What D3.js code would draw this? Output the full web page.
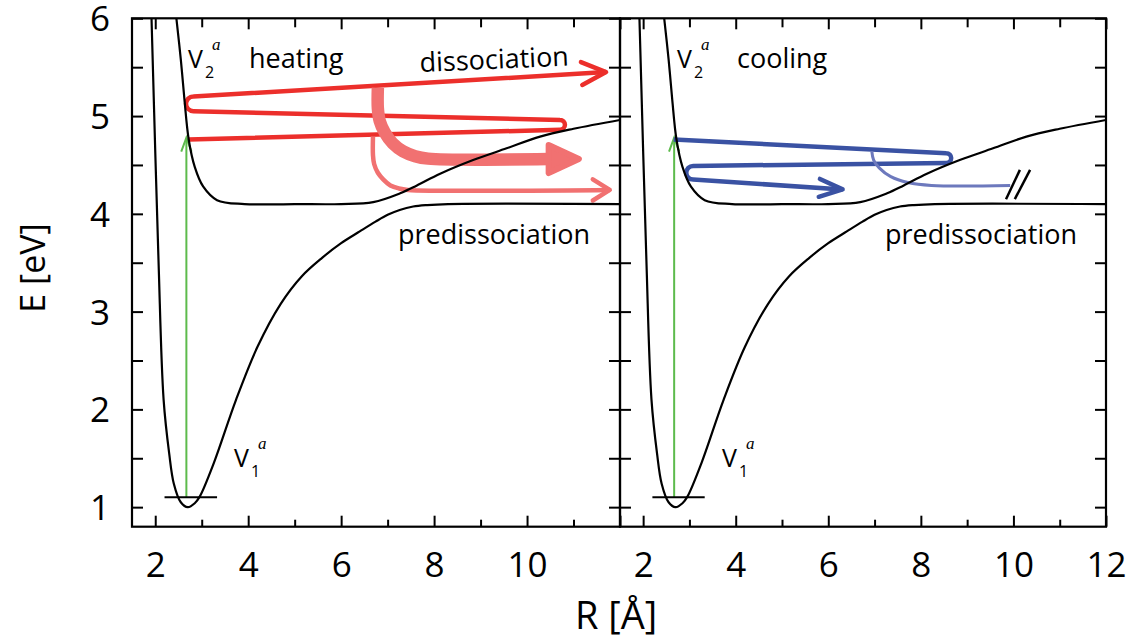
<!DOCTYPE html>
<html>
<head>
<meta charset="utf-8">
<script src="https://cdn.jsdelivr.net/npm/d3@7"></script>
<style>
  html, body { margin: 0; padding: 0; background: #fff; }
  svg { display: block; }
  text { font-family: "Open Sans", "Noto Sans", sans-serif; fill: #000; }
</style>
</head>
<body>
<svg id="chart" width="1136" height="639"></svg>
<script>
// ---- axis ranges and ticks ----
const rDomain = [1.5, 12];
const eDomain = [0.8, 6];
const rMajorTicks = [2, 4, 6, 8, 10, 12];
const rMinorTicks = [3, 5, 7, 9, 11];
const eTicks = [1, 1.5, 2, 2.5, 3, 3.5, 4, 4.5, 5, 5.5, 6];
const eLabelTicks = [1, 2, 3, 4, 5, 6];

// ---- potential energy curves (R in Å, E in eV) ----
const v1R = [1.92, 2.07, 2.18, 2.30, 2.40, 2.55, 2.70, 2.85, 2.96, 3.26, 3.74, 4.20, 4.70, 5.15, 5.59, 6.00, 6.40, 6.74, 7.00, 7.26, 7.55, 7.85, 8.30, 12.0];
const v1E = [6.00, 3.53, 2.10, 1.55, 1.24, 1.05, 1.00, 1.04, 1.11, 1.45, 2.10, 2.64, 3.08, 3.36, 3.55, 3.70, 3.82, 3.92, 3.99, 4.04, 4.075, 4.09, 4.10, 4.10];
const v2R = [2.455, 2.55, 2.63, 2.72, 2.85, 3.03, 3.33, 3.92, 5.00, 6.00, 6.69, 7.27, 7.63, 8.13, 8.84, 9.56, 10.28, 11.00, 12.00];
const v2E = [6.00, 5.58, 5.16, 4.76, 4.48, 4.28, 4.14, 4.10, 4.10, 4.10, 4.12, 4.21, 4.29, 4.41, 4.55, 4.67, 4.79, 4.87, 4.96];

// vibrational ground level and vertical excitation
const zeroLevelR = [2.2, 3.33];
const zeroLevelE = 1.10;
const excitationR = 2.67;
const excitationE = [1.10, 4.78];

// ---- heating: zig-zag path (legs joined by hairpin turns) ----
const heatLegsR = [[2.72, 10.71], [10.71, 2.82], [2.82, 11.70]];
const heatLegsE = [[4.76, 4.86], [4.96, 5.05], [5.20, 5.45]];
// dissociation branch (thick) and predissociation branch (thin)
const heatThickR = [6.79, 6.79, 6.83, 6.94, 7.11, 7.33, 7.59, 7.87, 10.45];
const heatThickE = [5.29, 5.08, 4.95, 4.83, 4.72, 4.64, 4.59, 4.565, 4.56];
const heatThickTip = [11.18, 4.56];
const heatThinR = [6.685, 6.685, 6.71, 6.79, 6.91, 7.06, 7.24, 7.44, 11.78];
const heatThinE = [4.79, 4.60, 4.51, 4.42, 4.35, 4.29, 4.26, 4.245, 4.245];

// ---- cooling ----
const coolLegsR = [[2.66, 8.55], [8.55, 3.08], [3.08, 6.31]];
const coolLegsE = [[4.76, 4.62], [4.52, 4.49], [4.35, 4.25]];
const coolLeakR = [6.94, 6.98, 7.10, 7.35, 7.72, 8.23, 9.93];
const coolLeakE = [4.64, 4.55, 4.47, 4.38, 4.32, 4.29, 4.29];
const breakMarksR = [[9.84, 10.14], [10.03, 10.36]];
const breakMarksE = [[4.15, 4.45], [4.15, 4.45]];

// ---- colours ----
const C = {
  red: "#ec2f2b",
  salmon: "#f17171",
  blue: "#3a52a3",
  lightBlue: "#6d79bd",
  green: "#5dbb4c"
};

const svg = d3.select("#chart");
const plotTop = 18.3, plotBottom = 526.7;
const y = d3.scaleLinear().domain(eDomain).range([plotBottom, plotTop]);

const panels = [
  { x0: 132, x1: 620, labels: [2, 4, 6, 8, 10], yLabels: true, id: "heat" },
  { x0: 620, x1: 1106, labels: [2, 4, 6, 8, 10, 12], yLabels: false, id: "cool" }
];

const zip = (a, b) => a.map((v, i) => [v, b[i]]);
const curveLine = (xs) => d3.line().x(d => xs(d[0])).y(d => y(d[1])).curve(d3.curveCatmullRom.alpha(0.5));

function zigzag(xs, legsR, legsE) {
  const p = d3.path();
  const legs = legsR.map((r, i) => [[xs(r[0]), y(legsE[i][0])], [xs(r[1]), y(legsE[i][1])]]);
  legs.forEach((leg, i) => {
    const [a, b] = leg;
    if (i === 0) p.moveTo(a[0], a[1]);
    else {
      const [pa, pb] = legs[i - 1];
      const cx = (pb[0] + a[0]) / 2, cy = (pb[1] + a[1]) / 2;
      const r = Math.hypot(a[0] - pb[0], a[1] - pb[1]) / 2;
      const a0 = Math.atan2(pb[1] - cy, pb[0] - cx);
      const a1 = Math.atan2(a[1] - cy, a[0] - cx);
      const clockwise = ((pb[0] - pa[0]) > 0) === ((a[1] - pb[1]) > 0);
      p.arc(cx, cy, r, a0, a1, !clockwise);
    }
    p.lineTo(b[0], b[1]);
  });
  return { d: p.toString(), legs };
}

function chevron(tip, from, len, halfAngle) {
  const th = Math.atan2(tip[1] - from[1], tip[0] - from[0]);
  const a = halfAngle * Math.PI / 180;
  const p1 = [tip[0] - len * Math.cos(th - a), tip[1] - len * Math.sin(th - a)];
  const p2 = [tip[0] - len * Math.cos(th + a), tip[1] - len * Math.sin(th + a)];
  return `M${p1[0]},${p1[1]}L${tip[0]},${tip[1]}L${p2[0]},${p2[1]}`;
}

panels.forEach((P) => {
  const xs = d3.scaleLinear().domain(rDomain).range([P.x0, P.x1]);
  const g = svg.append("g");

  svg.append("clipPath").attr("id", "clip-" + P.id)
    .append("rect").attr("x", P.x0).attr("y", plotTop).attr("width", P.x1 - P.x0).attr("height", plotBottom - plotTop);

  const plot = g.append("g").attr("clip-path", `url(#clip-${P.id})`);

  // vertical excitation
  const gx = xs(excitationR), gy0 = y(excitationE[0]), gy1 = y(excitationE[1]);
  plot.append("line").attr("x1", gx).attr("x2", gx).attr("y1", gy0).attr("y2", gy1 + 1)
    .attr("stroke", C.green).attr("stroke-width", 2);
  plot.append("path").attr("d", chevron([gx, gy1], [gx, gy0], 15, 20))
    .attr("fill", "none").attr("stroke", C.green).attr("stroke-width", 2).attr("stroke-linejoin", "miter");

  if (P.id === "heat") {
    const z = zigzag(xs, heatLegsR, heatLegsE);
    plot.append("path").attr("d", z.d).attr("fill", "none").attr("stroke", C.red)
      .attr("stroke-width", 4.5).attr("stroke-linejoin", "round");
    const last = z.legs[z.legs.length - 1];
    plot.append("path").attr("d", chevron(last[1], last[0], 27, 25))
      .attr("fill", "none").attr("stroke", C.red).attr("stroke-width", 4.5)
      .attr("stroke-linecap", "round").attr("stroke-linejoin", "round");

    // predissociation branch
    const thin = zip(heatThinR, heatThinE);
    plot.append("path").attr("d", curveLine(xs)(thin)).attr("fill", "none")
      .attr("stroke", C.salmon).attr("stroke-width", 4.5);
    const tN = thin.length;
    plot.append("path").attr("d", chevron([xs(thin[tN - 1][0]), y(thin[tN - 1][1])], [xs(thin[tN - 2][0]), y(thin[tN - 2][1])], 20, 32))
      .attr("fill", "none").attr("stroke", C.salmon).attr("stroke-width", 4.5)
      .attr("stroke-linecap", "round").attr("stroke-linejoin", "round");

    // dissociation branch
    const thick = zip(heatThickR, heatThickE);
    plot.append("path").attr("d", curveLine(xs)(thick)).attr("fill", "none")
      .attr("stroke", C.salmon).attr("stroke-width", 12.5);
    const tipX = xs(heatThickTip[0]) - 3, tipY = y(heatThickTip[1]);
    const baseX = xs(10.40) + 3;
    plot.append("path")
      .attr("d", `M${baseX},${tipY - 14}L${tipX},${tipY}L${baseX},${tipY + 14}Z`)
      .attr("fill", C.salmon).attr("stroke", C.salmon).attr("stroke-width", 6).attr("stroke-linejoin", "round");
  } else {
    const z = zigzag(xs, coolLegsR, coolLegsE);
    // leakage to the predissociation channel
    const leak = zip(coolLeakR, coolLeakE);
    plot.append("path").attr("d", z.d).attr("fill", "none").attr("stroke", C.blue)
      .attr("stroke-width", 4.5).attr("stroke-linejoin", "round");
    plot.append("path").attr("d", curveLine(xs)(leak)).attr("fill", "none")
      .attr("stroke", C.lightBlue).attr("stroke-width", 3);
    const last = z.legs[z.legs.length - 1];
    plot.append("path").attr("d", chevron(last[1], last[0], 25, 21))
      .attr("fill", "none").attr("stroke", C.blue).attr("stroke-width", 4.5)
      .attr("stroke-linecap", "round").attr("stroke-linejoin", "round");
    breakMarksR.forEach((r, i) => {
      plot.append("line")
        .attr("x1", xs(r[0])).attr("y1", y(breakMarksE[i][0]))
        .attr("x2", xs(r[1])).attr("y2", y(breakMarksE[i][1]))
        .attr("stroke", "#000").attr("stroke-width", 2.5);
    });
  }

  // potential curves
  plot.append("path").attr("d", curveLine(xs)(zip(v1R, v1E))).attr("fill", "none")
    .attr("stroke", "#000").attr("stroke-width", 2.2);
  plot.append("path").attr("d", curveLine(xs)(zip(v2R, v2E))).attr("fill", "none")
    .attr("stroke", "#000").attr("stroke-width", 2.2);
  plot.append("line").attr("x1", xs(zeroLevelR[0])).attr("x2", xs(zeroLevelR[1]))
    .attr("y1", y(zeroLevelE)).attr("y2", y(zeroLevelE))
    .attr("stroke", "#000").attr("stroke-width", 2);

  // axes
  const inDomain = (t) => t > rDomain[0] && t <= rDomain[1];
  const tidy = (sel) => {
    sel.attr("font-size", null).attr("font-family", null);
    sel.select(".domain").remove();
    sel.selectAll(".tick line").attr("stroke", "#000").attr("stroke-width", 2);
  };
  const major = rMajorTicks.filter(inDomain);
  g.append("g").attr("transform", `translate(0,${plotBottom})`)
    .call(d3.axisBottom(xs).tickValues(major).tickSize(-11)
      .tickFormat(d => P.labels.includes(d) ? d3.format("d")(d) : ""))
    .call(tidy)
    .call(s => s.selectAll("text").attr("y", 50).attr("dy", null).style("font-size", "35px"));
  g.append("g").attr("transform", `translate(0,${plotBottom})`)
    .call(d3.axisBottom(xs).tickValues(rMinorTicks).tickSize(-7).tickFormat(""))
    .call(tidy);
  g.append("g").attr("transform", `translate(0,${plotTop})`)
    .call(d3.axisTop(xs).tickValues(major).tickSize(-11).tickFormat(""))
    .call(tidy);
  g.append("g").attr("transform", `translate(0,${plotTop})`)
    .call(d3.axisTop(xs).tickValues(rMinorTicks).tickSize(-9).tickFormat(""))
    .call(tidy);
  g.append("g").attr("transform", `translate(${P.x0},0)`)
    .call(d3.axisLeft(y).tickValues(eTicks).tickSize(-11).tickPadding(22)
      .tickFormat(d => P.yLabels && eLabelTicks.includes(d) ? d3.format("d")(d) : ""))
    .call(tidy)
    .call(s => s.selectAll("text").attr("dy", "0.36em").style("font-size", "35px"));
  g.append("g").attr("transform", `translate(${P.x1},0)`)
    .call(d3.axisRight(y).tickValues(eTicks).tickSize(-11).tickFormat(""))
    .call(tidy);

  // frame
  g.append("rect").attr("x", P.x0).attr("y", plotTop)
    .attr("width", P.x1 - P.x0).attr("height", plotBottom - plotTop)
    .attr("fill", "none").attr("stroke", "#000").attr("stroke-width", 2.2);
});

// ---- state labels and annotations ----
function stateLabel(x, yb, sub) {
  const t = svg.append("g");
  t.append("text").attr("x", x).attr("y", yb).style("font-size", "25px").text("V");
  t.append("text").attr("x", x + 17).attr("y", yb + 10).style("font-size", "16px").text(sub);
  t.append("text").attr("x", x + 24).attr("y", yb - 18)
    .style("font-family", "'Liberation Serif', serif").style("font-style", "italic")
    .style("font-size", "17px").text("a");
}
stateLabel(188, 68, "2");
stateLabel(677, 68, "2");
stateLabel(234, 467, "1");
stateLabel(722, 467, "1");

const note = (x, yb, s, rot) => {
  const t = svg.append("text").attr("x", x).attr("y", yb).style("font-size", "27px").text(s);
  if (rot) t.attr("transform", `rotate(${rot},${x},${yb})`);
};
note(249, 68, "heating");
note(737, 68, "cooling");
note(420, 72, "dissociation", -2.5);
note(398, 244, "predissociation");
note(885, 244, "predissociation");

svg.append("text").attr("transform", "translate(45,268) rotate(-90)")
  .attr("text-anchor", "middle").style("font-size", "34px").text("E [eV]");
svg.append("text").attr("x", 616).attr("y", 629)
  .attr("text-anchor", "middle").style("font-size", "38px").text("R [Å]");
</script>
</body>
</html>
